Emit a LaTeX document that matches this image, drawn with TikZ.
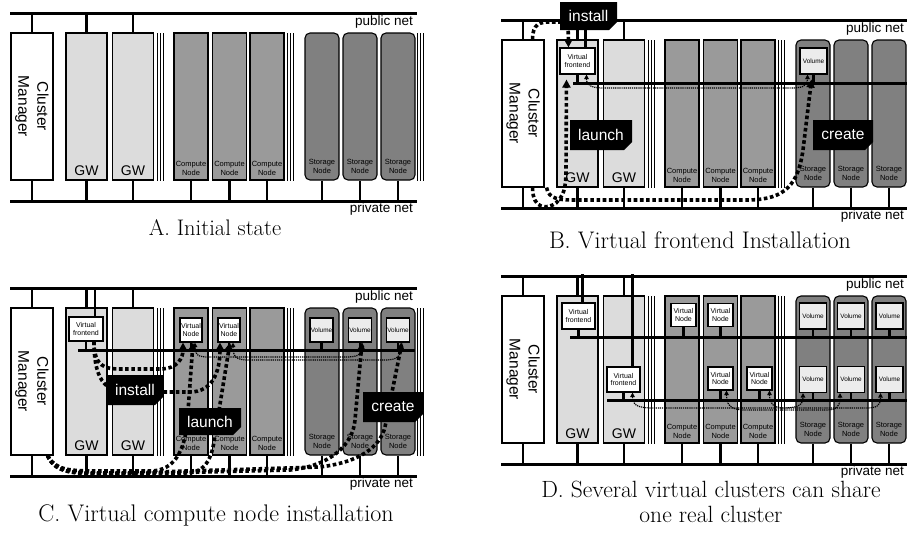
\documentclass[tikz,border=0pt]{standalone}
\usepackage{fontspec}
\setsansfont{Liberation Sans}
\usetikzlibrary{arrows.meta,shapes.misc}
\definecolor{gwgray}{HTML}{DCDCDC}
\definecolor{cpgray}{HTML}{9A9A9A}
\definecolor{stgray}{HTML}{808080}
\definecolor{volgray}{HTML}{ECECEC}

\begin{document}
\begin{tikzpicture}[x=1pt, y=-1pt,
        net/.style={line width=3pt},
        stub/.style={line width=2.4pt},
        box/.style={draw, line width=1.1pt, inner sep=0pt, align=center},
        cmbox/.style={box, fill=white, minimum width=42pt, minimum height=147pt},
        gwbox/.style={box, fill=gwgray, minimum width=41pt, minimum height=147pt},
        cpbox/.style={box, fill=cpgray, minimum width=34pt, minimum height=147pt},
        stbox/.style={box, fill=stgray, rounded corners=5pt, minimum width=34pt, minimum height=147pt},
        vbox/.style={box, fill=white, font=\sffamily\fontsize{7}{7.8}\selectfont},
        volbox/.style={box, fill=volgray, font=\sffamily\fontsize{6.4}{7}\selectfont},
        small/.style={font=\sffamily\fontsize{7.5}{8.5}\selectfont, align=center, inner sep=0pt},
        tag/.style={chamfered rectangle, chamfered rectangle corners=south east, chamfered rectangle sep=4pt,
          fill=black, text=white, inner sep=0pt, font=\sffamily\fontsize{15.5}{16}\selectfont},
        bigdash/.style={line width=3.6pt, dash pattern=on 3.6pt off 2.6pt},
        bigarr/.style={bigdash, -{Triangle[length=8pt,width=8pt]}},
        thindot/.style={line width=1.2pt, dash pattern=on 1.2pt off 0.9pt,
          {Triangle[length=4.5pt,width=4.5pt]}-{Triangle[length=4.5pt,width=4.5pt]}},
        netlbl/.style={font=\sffamily\fontsize{13.5}{14}\selectfont, anchor=east, inner sep=0pt},
        caption/.style={align=center}]
      \useasboundingbox (0,0) rectangle (907,538);

      % the real cluster, once per panel
      \foreach \p/\dx/\dy in {A/0/0, B/491/7, C/0/275, D/491/263} {
        \begin{scope}[shift={(\dx,\dy)}]
          \draw[net] (10,13) -- (417,13);
          \draw[net] (10,201) -- (417,201);
          \node[netlbl] at (413,22) {public net};
          \node[netlbl] at (413,209) {private net};
          \node[cmbox] (cm\p) at (32,106.5) {};
          \node[gwbox] (gwa\p) at (86.5,106.5) {};
          \node[gwbox] (gwb\p) at (133,106.5) {};
          \node[cpbox] (cpa\p) at (191,106.5) {};
          \node[cpbox] (cpb\p) at (229.5,106.5) {};
          \node[cpbox] (cpc\p) at (267,106.5) {};
          \node[stbox] (sta\p) at (322,106.5) {};
          \node[stbox] (stb\p) at (360,106.5) {};
          \node[stbox] (stc\p) at (398,106.5) {};
          \foreach \tx in {157,160,163,287,290,293,417,420,423}
            \draw[line width=1pt] (\tx,33) -- (\tx,181);
          \foreach \n in {cm,gwa,gwb}
            \draw[stub] (\n\p.north) -- ++(0,-20);
          \foreach \n in {cm,gwa,gwb,cpa,cpb,cpc,sta,stb,stc}
            \draw[stub] (\n\p.south) -- ++(0,21);
          \node[rotate=-90, align=center, font=\sffamily\fontsize{15.5}{19}\selectfont] at (cm\p) {Cluster\\Manager};
          \foreach \n in {gwa,gwb}
            \node[font=\sffamily\fontsize{14}{14}\selectfont] at ([yshift=10pt]\n\p.south) {GW};
          \foreach \n in {cpa,cpb,cpc}
            \node[small] at ([yshift=12pt]\n\p.south) {Compute\\Node};
          \foreach \n in {sta,stb,stc}
            \node[small] at ([yshift=14pt]\n\p.south) {Storage\\Node};
        \end{scope}
      }

      % B: virtual frontend installation
      \node[vbox, minimum width=35pt, minimum height=26pt] (vfB) at (577.5,61) {Virtual\\frontend};
      \node[volbox, minimum width=27pt, minimum height=26pt] (volB) at (813.5,61) {Volume};
      \draw[stub] ([xshift=8pt]vfB.north) -- ++(0,-28);
      \draw[net] (573,83) -- (907,83);
      \draw[stub] (vfB.south) -- ++(0,9);
      \draw[stub] (volB.south) -- ++(0,9);
      \draw[thindot] ([xshift=9pt]vfB.south) .. controls +(0,12) and +(-12,0) .. (605,88) -- (790,88)
        .. controls +(12,0) and +(0,12) .. ([xshift=-6pt]volB.south);
      \draw[bigarr] ([xshift=-12pt]cmB.north east) .. controls +(0,-16) and +(-10,0) .. (550,22) -- (568,22)
        -- ([xshift=-9pt]vfB.north);
      \draw[bigarr] ([xshift=-12pt]cmB.south east) .. controls +(0,23) and +(-8,6) .. (556,203)
        .. controls +(7,-7) and +(0,20) .. (566,170) -- ([xshift=-11pt,yshift=-5pt]vfB.south);
      \draw[bigarr] ([xshift=2pt]cmB.south east) .. controls +(2,12) and +(-15,0) .. (575,200) -- (750,200)
        .. controls +(35,-1) and +(-5,35) .. (803,150) -- ([xshift=-2pt,yshift=-5pt]volB.south);
      \node[tag, minimum width=57pt, minimum height=28pt] (instB) at (588.5,16) {install};
      \node[tag, minimum width=62pt, minimum height=30pt] (lnchB) at (601,135) {launch};
      \node[tag, minimum width=60pt, minimum height=30pt] (crtB) at (843,135) {create};

      % C: virtual compute node installation
      \node[vbox, minimum width=34pt, minimum height=24pt] (vfC) at (86,329) {Virtual\\frontend};
      \draw[stub] ([xshift=9pt]vfC.north) -- ++(0,-29);
      \draw[net] (78,350) -- (415,350);
      \draw[stub] (vfC.south) -- ++(0,9);
      \node[vbox, minimum width=22pt, minimum height=24pt] (vnaC) at (191,330) {Virtual\\Node};
      \node[vbox, minimum width=22pt, minimum height=24pt] (vnbC) at (229,330) {Virtual\\Node};
      \draw[stub] (vnaC.south) -- ++(0,8);
      \draw[stub] (vnbC.south) -- ++(0,8);
      \foreach \v/\vx in {a/321.5, b/360, c/398} {
        \node[volbox, minimum width=23pt, minimum height=24pt] (vlC\v) at (\vx,330) {Volume};
        \draw[stub] (vlC\v.south) -- ++(0,8);
      }
      \draw[thindot] ([xshift=4pt]vnaC.south) .. controls +(0,13) and +(-12,0) .. (210,357) -- (345,357)
        .. controls +(12,0) and +(0,13) .. ([xshift=2pt]vlCb.south);
      \draw[thindot] ([xshift=4pt]vnbC.south) .. controls +(0,14) and +(-12,0) .. (248,360) -- (385,360)
        .. controls +(12,0) and +(0,14) .. ([xshift=3pt]vlCc.south);
      \draw[bigarr] ([xshift=8pt]vfC.south) .. controls +(0,25) and +(-15,0) .. (120,369) -- (160,369)
        .. controls +(18,0) and +(0,15) .. ([xshift=-8pt]vnaC.south);
      \draw[bigarr] ([xshift=8pt]vfC.south) .. controls +(0,45) and +(-20,0) .. (130,392) -- (190,392)
        .. controls +(22,0) and +(0,30) .. ([xshift=-9pt]vnbC.south);
      \draw[bigarr] ([xshift=-6pt]cmC.south east) .. controls +(8,15) and +(-30,0) .. (100,471) -- (150,471)
        .. controls +(25,0) and +(-3,25) .. (187,425) -- ([xshift=2pt]vnaC.south);
      \draw[bigarr] ([xshift=-6pt]cmC.south east) .. controls +(8,17) and +(-30,0) .. (100,473) -- (185,473)
        .. controls +(20,0) and +(-3,25) .. (215,435) -- ([xshift=1pt]vnbC.south);
      \draw[bigarr] ([xshift=-6pt]cmC.south east) .. controls +(8,20) and +(-40,0) .. (120,474) -- (290,470)
        .. controls +(40,-4) and +(-2,25) .. (355,420) -- ([xshift=2pt]vlCb.south);
      \draw[bigarr] ([xshift=-6pt]cmC.south east) .. controls +(8,18) and +(-40,0) .. (120,473) -- (320,467)
        .. controls +(40,-5) and +(-5,20) .. (385,427) -- ([xshift=4pt]vlCc.south);
      \node[tag, minimum width=56pt, minimum height=30pt] (instC) at (135,390) {install};
      \node[tag, minimum width=62pt, minimum height=27pt] (lnchC) at (210,421.5) {launch};
      \node[tag, minimum width=60pt, minimum height=30pt] (crtC) at (393,407) {create};

      % D: two virtual clusters on one real cluster
      \node[vbox, minimum width=33pt, minimum height=26pt] (vfaD) at (578.5,316) {Virtual\\frontend};
      \draw[stub] ([xshift=4pt]vfaD.north) -- ++(0,-28);
      \draw[net] (570,337) -- (907,337);
      \draw[stub] (vfaD.south) -- ++(0,8);
      \node[vbox, minimum width=33pt, minimum height=25pt] (vfbD) at (623.5,379.5) {Virtual\\frontend};
      \draw[stub] ([xshift=9pt]vfbD.north) -- ++(0,-92);
      \draw[net] (607,400) -- (907,400);
      \draw[stub] (vfbD.south) -- ++(0,8);
      \foreach \v/\vx/\vy in {a/683.5/315, b/720.5/315, c/720.5/378.5, d/759.5/378.5} {
        \node[vbox, minimum width=25pt, minimum height=23pt] (vnD\v) at (\vx,\vy) {Virtual\\Node};
        \draw[stub] (vnD\v.south) -- ++(0,10);
      }
      \foreach \v/\vx/\vy in {a/813/316, b/851/316, c/889.5/316, d/813/379.5, e/851/379.5, f/889.5/379.5} {
        \node[volbox, minimum width=27pt, minimum height=26pt] (vlD\v) at (\vx,\vy) {Volume};
        \draw[stub] (vlD\v.south) -- ++(0,8);
      }
      \draw[thindot] ([xshift=9pt]vfbD.south) .. controls +(0,14) and +(-15,0) .. (655,408) -- (780,408)
        .. controls +(15,0) and +(0,14) .. ([xshift=-10pt]vlDd.south);
      \draw[thindot] ([xshift=6pt]vnDc.south) .. controls +(0,14) and +(-15,0) .. (745,410) -- (825,410)
        .. controls +(12,0) and +(0,14) .. ([xshift=-11pt]vlDe.south);
      \draw[thindot] ([xshift=10pt]vnDd.south) .. controls +(0,13) and +(-12,0) .. (785,408) -- (865,408)
        .. controls +(12,0) and +(0,13) .. ([xshift=-9pt]vlDf.south);

      % captions
      \node[caption, font=\fontsize{22.5}{26}\selectfont] (capA) at (215,228) {A. Initial state};
      \node[caption, font=\fontsize{24}{26}\selectfont] (capB) at (700,240) {B. Virtual frontend Installation};
      \node[caption, font=\fontsize{24}{26}\selectfont] (capC) at (216,515) {C. Virtual compute node installation};
      \node[caption, font=\fontsize{23.5}{25}\selectfont] (capD) at (711,502) {D. Several virtual clusters can share\\one real cluster};
      \end{tikzpicture}
\end{document}
